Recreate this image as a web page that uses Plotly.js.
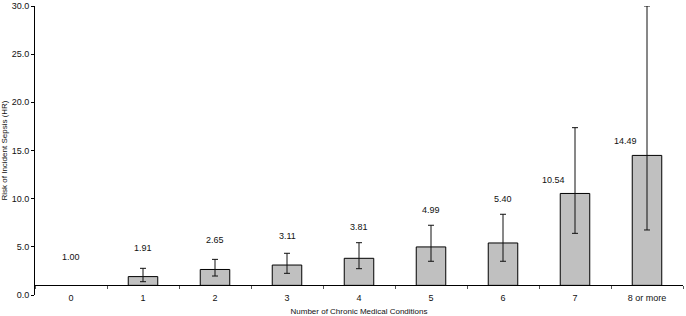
<!DOCTYPE html>
<html>
<head>
<meta charset="utf-8">
<script src="https://cdn.plot.ly/plotly-3.0.1.min.js"></script>
<style>html,body{margin:0;padding:0;background:#fff;}#chart{width:686px;height:316px;}</style>
</head>
<body>
<div id="chart"></div>
<script>
const categories = ["0", "1", "2", "3", "4", "5", "6", "7", "8 or more"];
const hrValues = [1.00, 1.91, 2.65, 3.11, 3.81, 4.99, 5.40, 10.54, 14.49];
const ciLower = [1.00, 1.38, 1.97, 2.25, 2.73, 3.50, 3.50, 6.40, 6.75];
const ciUpper = [1.00, 2.77, 3.70, 4.33, 5.43, 7.24, 8.38, 17.37, 30.0];
const valueLabels = ["1.00", "1.91", "2.65", "3.11", "3.81", "4.99", "5.40", "10.54", "14.49"];
const labelY = [3.95, 4.88, 5.70, 6.16, 7.06, 8.83, 9.97, 11.94, 16.0];
const labelXShift = [0, 0, 0, 0, 0, 0, 0, -22, -22];
const referenceHR = 1;

const FONT = "Liberation Sans, Arial, sans-serif";

const barTrace = {
  type: "bar",
  x: categories,
  y: hrValues.map(v => v - referenceHR),
  base: hrValues.map(() => referenceHR),
  width: 0.41,
  marker: {
    color: "#c0c0c0",
    line: { color: hrValues.map(v => v === referenceHR ? "rgba(0,0,0,0)" : "#000"), width: 1 }
  },
  hoverinfo: "skip",
  showlegend: false
};

const errTrace = {
  type: "scatter",
  mode: "markers",
  x: categories.slice(1),
  y: hrValues.slice(1),
  marker: { size: 1, color: "rgba(0,0,0,0)" },
  error_y: {
    type: "data",
    symmetric: false,
    array: ciUpper.slice(1).map((u, i) => u - hrValues[i + 1]),
    arrayminus: ciLower.slice(1).map((l, i) => hrValues[i + 1] - l),
    color: "#111",
    thickness: 1,
    width: 3
  },
  hoverinfo: "skip",
  showlegend: false,
  cliponaxis: false
};

const annotations = categories.map((c, i) => ({
  x: c, y: labelY[i], xref: "x", yref: "y",
  xshift: labelXShift[i],
  text: valueLabels[i], showarrow: false,
  font: { family: FONT, size: 9, color: "#111" }
}));

const layout = {
  width: 686, height: 316,
  margin: { l: 35, r: 3, t: 6, b: 21 },
  paper_bgcolor: "#fff", plot_bgcolor: "#fff",
  font: { family: FONT, size: 9, color: "#111" },
  xaxis: {
    type: "category",
    anchor: "free",
    position: referenceHR / 30,
    showline: true, linecolor: "#000", linewidth: 1,
    ticks: "outside", tickson: "boundaries", ticklen: 3, tickcolor: "#555",
    ticklabelstandoff: 4,
    tickfont: { family: FONT, size: 9, color: "#111" },
    showgrid: false, zeroline: false,
    title: { text: "Number of Chronic Medical Conditions", font: { family: FONT, size: 8, color: "#111" }, standoff: 8 },
    automargin: false
  },
  yaxis: {
    range: [0, 30],
    tickvals: [0, 5, 10, 15, 20, 25, 30],
    ticktext: ["0.0", "5.0", "10.0", "15.0", "20.0", "25.0", "30.0"],
    showline: true, linecolor: "#000", linewidth: 1,
    ticks: "outside", ticklen: 3, tickcolor: "#000",
    tickfont: { family: FONT, size: 9, color: "#111" },
    showgrid: false, zeroline: false,
    title: { text: "Risk of Incident Sepsis (HR)", font: { family: FONT, size: 8, color: "#111" }, standoff: 4 },
    automargin: false
  },
  annotations: annotations
};

Plotly.newPlot("chart", [barTrace, errTrace], layout, { staticPlot: true, displayModeBar: false });
</script>
</body>
</html>
